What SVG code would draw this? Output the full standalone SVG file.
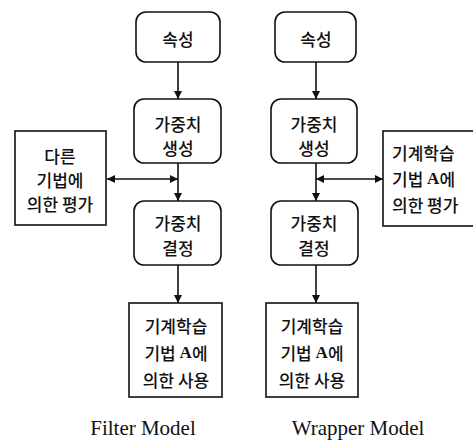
<svg xmlns="http://www.w3.org/2000/svg" width="473" height="445" viewBox="0 0 473 445">
  <defs>
    <marker id="head" viewBox="0 0 10 10" refX="10" refY="5" markerWidth="9" markerHeight="8" markerUnits="userSpaceOnUse" orient="auto-start-reverse">
      <path d="M0,0 L10,5 L0,10 z" fill="#111"/>
    </marker>
    <style>
      .box { fill: #fff; stroke: #111; stroke-width: 1.6; }
      .kr { font-family: "Noto Sans CJK KR", "Noto Sans", sans-serif; font-size: 17px; font-weight: 500; fill: #111; text-anchor: middle; dominant-baseline: central; }
      .krl { font-family: "Noto Sans CJK KR", "Noto Sans", sans-serif; font-size: 17px; font-weight: 500; fill: #111; dominant-baseline: central; }
      .lat { font-family: "Liberation Serif", serif; font-weight: bold; }
      .cap { font-family: "Liberation Serif", "Times New Roman", serif; font-size: 21px; fill: #111; text-anchor: middle; }
      .wire { fill: none; stroke: #111; stroke-width: 1.6; }
    </style>
  </defs>

  <rect width="473" height="445" fill="#fff"/>

  <!-- connectors -->
  <g id="connectors">
    <!-- filter model -->
    <line class="wire" x1="178" y1="62" x2="178" y2="99" marker-end="url(#head)"/>
    <line class="wire" x1="178" y1="163" x2="178" y2="201" marker-end="url(#head)"/>
    <line class="wire" x1="178" y1="265" x2="178" y2="303" marker-end="url(#head)"/>
    <line class="wire" x1="107" y1="179" x2="178" y2="179" marker-start="url(#head)" marker-end="url(#head)"/>
    <!-- wrapper model -->
    <line class="wire" x1="316" y1="62" x2="316" y2="99" marker-end="url(#head)"/>
    <line class="wire" x1="316" y1="163" x2="316" y2="201" marker-end="url(#head)"/>
    <line class="wire" x1="316" y1="265" x2="316" y2="303" marker-end="url(#head)"/>
    <line class="wire" x1="316" y1="179" x2="383" y2="179" marker-start="url(#head)" marker-end="url(#head)"/>
  </g>

  <!-- Filter Model column -->
  <g id="f-attr">
    <rect class="box" x="136" y="12" width="84" height="50" rx="10"/>
    <text class="kr" x="178" y="38">속성</text>
  </g>
  <g id="f-gen">
    <rect class="box" x="134" y="99" width="87" height="64" rx="10"/>
    <text class="kr" x="178" y="123">가중치</text>
    <text class="kr" x="178" y="147">생성</text>
  </g>
  <g id="f-eval">
    <rect class="box" x="15" y="131" width="91" height="94"/>
    <text class="kr" x="60" y="155">다른</text>
    <text class="kr" x="60" y="179">기법에</text>
    <text class="kr" x="60" y="203">의한 평가</text>
  </g>
  <g id="f-decide">
    <rect class="box" x="134" y="201" width="87" height="64" rx="10"/>
    <text class="kr" x="178" y="222">가중치</text>
    <text class="kr" x="178" y="247">결정</text>
  </g>
  <g id="f-use">
    <rect class="box" x="129" y="303" width="93" height="94"/>
    <text class="kr" x="176" y="325">기계학습</text>
    <text class="kr" x="176" y="352">기법 <tspan class="lat">A</tspan>에</text>
    <text class="kr" x="176" y="379">의한 사용</text>
  </g>
  <text class="cap" x="143" y="435">Filter Model</text>

  <!-- Wrapper Model column -->
  <g id="w-attr">
    <rect class="box" x="275" y="12" width="81" height="50" rx="10"/>
    <text class="kr" x="316" y="38">속성</text>
  </g>
  <g id="w-gen">
    <rect class="box" x="271" y="99" width="86" height="64" rx="10"/>
    <text class="kr" x="314" y="123">가중치</text>
    <text class="kr" x="314" y="147">생성</text>
  </g>
  <g id="w-eval">
    <rect class="box" x="383" y="131" width="100" height="95"/>
    <text class="krl" x="392" y="152">기계학습</text>
    <text class="krl" x="392" y="178">기법 <tspan class="lat">A</tspan>에</text>
    <text class="krl" x="392" y="204">의한 평가</text>
  </g>
  <g id="w-decide">
    <rect class="box" x="271" y="201" width="87" height="64" rx="10"/>
    <text class="kr" x="314" y="222">가중치</text>
    <text class="kr" x="314" y="247">결정</text>
  </g>
  <g id="w-use">
    <rect class="box" x="266" y="303" width="92" height="94"/>
    <text class="kr" x="312" y="325">기계학습</text>
    <text class="kr" x="312" y="352">기법 <tspan class="lat">A</tspan>에</text>
    <text class="kr" x="312" y="379">의한 사용</text>
  </g>
  <text class="cap" x="358" y="435">Wrapper Model</text>
</svg>
